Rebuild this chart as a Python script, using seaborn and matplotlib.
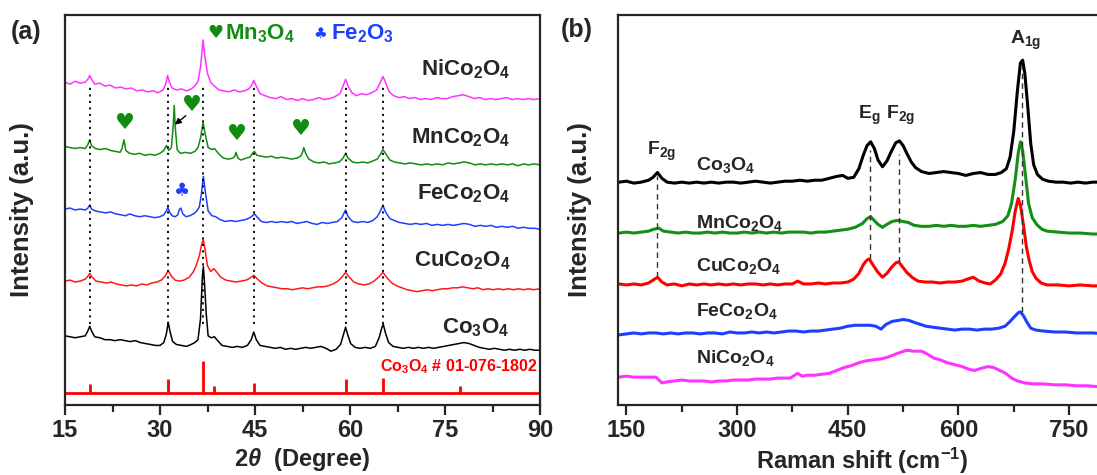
import matplotlib
matplotlib.use("Agg")
import matplotlib.pyplot as plt
import seaborn as sns

# ---------------- (a) XRD data (2theta, stacked intensity) ----------------
ni_x = [15, 15.8, 16.6, 17.4, 18.2, 18.7, 18.9, 19.2, 19.7, 20.5, 21.3, 22.1, 23.0, 23.8, 24.6, 25.5, 26.3,
        27.2, 28.0, 28.9, 29.7, 30.5, 30.9, 31.2, 31.5, 31.9, 32.6, 33.4, 34.2, 34.9, 35.5, 36.0, 36.4, 36.8,
        37.1, 37.5, 38.0, 38.6, 39.3, 40.1, 40.9, 41.7, 42.5, 43.3, 44.0, 44.5, 44.8, 45.2, 45.8, 46.6, 47.4,
        48.3, 49.1, 50.0, 50.8, 51.7, 52.5, 53.4, 54.2, 55.1, 55.9, 56.8, 57.6, 58.4, 58.9, 59.3, 59.7, 60.3,
        61.0, 61.8, 62.6, 63.4, 64.2, 64.8, 65.2, 65.6, 66.2, 66.9, 67.7, 68.6, 69.4, 70.3, 71.1, 72.0, 72.8,
        73.7, 74.5, 75.4, 76.2, 77.1, 77.9, 78.8, 79.6, 80.5, 81.3, 82.2, 83.0, 83.9, 84.7, 85.6, 86.4, 87.3,
        88.1, 89.0, 90.0]
ni_y = [326, 324, 327, 325, 326, 330, 333, 329, 324, 325, 322, 323, 320, 321, 319, 320, 317,
        318, 316, 317, 315, 318, 324, 333, 326, 320, 318, 319, 317, 319, 322, 327, 342, 370,
        352, 335, 326, 322, 318, 317, 316, 318, 316, 317, 319, 323, 328, 322, 314, 312, 310,
        309, 311, 308, 309, 307, 309, 307, 308, 310, 308, 309, 311, 314, 322, 329, 322, 315,
        312, 314, 313, 315, 318, 326, 332, 326, 316, 312, 310, 311, 309, 310, 308, 309, 308,
        310, 309, 309, 311, 312, 313, 311, 309, 310, 308, 309, 308, 309, 310, 308, 309, 308,
        309, 308, 309]

mn_x = [15, 15.8, 16.6, 17.4, 18.2, 18.6, 18.9, 19.2, 19.8, 20.6, 21.4, 22.2, 23.0, 23.7, 24.0, 24.3, 24.6,
        25.2, 26.0, 26.8, 27.6, 28.4, 29.2, 30.0, 30.6, 31.0, 31.4, 31.8, 32.1, 32.25, 32.4, 32.7, 33.2, 34.0,
        34.8, 35.5, 36.0, 36.4, 36.8, 37.2, 37.6, 38.2, 38.6, 39.2, 40.0, 40.8, 41.5, 41.8, 42.0, 42.3, 42.8,
        43.6, 44.2, 44.6, 44.9, 45.3, 46.0, 46.8, 47.6, 48.4, 49.2, 50.0, 50.8, 51.6, 52.2, 52.5, 52.7, 53.0,
        53.5, 54.3, 55.1, 55.9, 56.7, 57.5, 58.3, 58.9, 59.3, 59.7, 60.4, 61.2, 62.0, 62.8, 63.6, 64.3, 64.8,
        65.2, 65.6, 66.3, 67.0, 67.8, 68.7, 69.5, 70.4, 71.2, 72.1, 72.9, 73.8, 74.6, 75.5, 76.3, 77.2, 78.0,
        78.9, 79.7, 80.6, 81.4, 82.3, 83.1, 84.0, 84.8, 85.7, 86.5, 87.4, 88.2, 89.1, 90.0]
mn_y = [259, 258, 257, 258, 257, 261, 266, 260, 257, 256, 257, 255, 254, 253, 257, 266, 255,
        252, 251, 252, 250, 251, 250, 252, 255, 260, 255, 258, 282, 302, 280, 256, 252, 253,
        252, 254, 258, 268, 284, 270, 258, 256, 257, 252, 247, 246, 247, 249, 253, 247, 245,
        247, 248, 252, 254, 250, 249, 248, 249, 247, 248, 247, 246, 247, 249, 253, 258, 252,
        246, 243, 242, 243, 241, 242, 243, 247, 252, 247, 243, 242, 243, 242, 244, 246, 251,
        256, 252, 245, 243, 242, 241, 242, 241, 240, 241, 240, 241, 240, 242, 241, 242, 243,
        242, 240, 241, 240, 241, 240, 241, 240, 241, 239, 241, 240, 241, 240]

fe_x = [15, 15.8, 16.6, 17.4, 18.2, 18.6, 18.9, 19.2, 19.8, 20.6, 21.4, 22.2, 23.0, 23.8, 24.6, 25.2, 26.0,
        26.8, 27.6, 28.4, 29.2, 30.0, 30.6, 31.0, 31.25, 31.5, 31.9, 32.4, 32.8, 33.1, 33.3, 33.6, 34.1, 34.7,
        35.3, 35.8, 36.2, 36.5, 36.85, 37.2, 37.6, 38.2, 38.8, 39.5, 40.3, 41.1, 41.9, 42.7, 43.5, 44.2, 44.6,
        44.9, 45.3, 46.0, 46.8, 47.6, 48.4, 49.2, 50.0, 50.8, 51.6, 52.4, 53.2, 54.0, 54.8, 55.6, 56.4, 57.2,
        58.0, 58.7, 59.3, 59.7, 60.4, 61.2, 62.0, 62.8, 63.6, 64.3, 64.8, 65.2, 65.6, 66.3, 67.0, 67.8, 68.7,
        69.5, 70.4, 71.2, 72.1, 72.9, 73.8, 74.6, 75.5, 76.3, 77.2, 78.0, 78.9, 79.7, 80.6, 81.4, 82.3, 83.1,
        84.0, 84.8, 85.7, 86.5, 87.4, 88.2, 89.1, 90.0]
fe_y = [194, 195, 193, 194, 193, 195, 198, 194, 192, 191, 190, 191, 189, 188, 187, 189, 187,
        186, 187, 186, 185, 186, 188, 192, 196, 191, 187, 186, 188, 194, 195, 189, 186, 187,
        189, 192, 196, 208, 228, 210, 192, 187, 186, 183, 181, 182, 181, 182, 183, 185, 187,
        189, 186, 181, 180, 181, 180, 181, 180, 181, 179, 180, 181, 179, 178, 180, 179, 180,
        181, 185, 193, 186, 181, 180, 181, 180, 182, 186, 192, 198, 191, 184, 182, 180, 179,
        178, 179, 178, 179, 177, 178, 177, 178, 177, 178, 179, 178, 176, 177, 176, 177, 175,
        176, 175, 176, 174, 175, 174, 174, 173]

cu_x = [15, 15.8, 16.6, 17.4, 18.2, 18.6, 18.9, 19.3, 19.9, 20.7, 21.5, 22.3, 23.1, 23.9, 24.7, 25.5, 26.3,
        27.1, 27.9, 28.7, 29.5, 30.2, 30.8, 31.3, 31.8, 32.4, 33.0, 33.8, 34.6, 35.2, 35.7, 36.2, 36.6, 36.85,
        37.1, 37.5, 38.0, 38.5, 39.0, 39.6, 40.4, 41.2, 42.0, 42.8, 43.6, 44.2, 44.8, 45.4, 46.1, 46.9, 47.7,
        48.5, 49.3, 50.1, 50.9, 51.7, 52.5, 53.3, 54.1, 54.9, 55.7, 56.5, 57.3, 58.1, 58.7, 59.3, 59.9, 60.6,
        61.4, 62.2, 63.0, 63.8, 64.5, 65.2, 65.9, 66.6, 67.4, 68.2, 69.0, 69.8, 70.6, 71.4, 72.2, 73.0, 73.8,
        74.6, 75.4, 76.2, 77.0, 77.8, 78.6, 79.4, 80.2, 81.0, 81.8, 82.6, 83.4, 84.2, 85.0, 85.8, 86.6, 87.4,
        88.2, 89.0, 90.0]
cu_y = [119, 120, 118, 119, 121, 124, 127, 123, 119, 118, 117, 118, 116, 115, 114, 115, 114,
        116, 115, 117, 118, 120, 124, 130, 124, 120, 119, 120, 123, 128, 135, 145, 158, 162,
        152, 135, 129, 132, 128, 123, 120, 119, 118, 119, 120, 122, 125, 121, 117, 114, 113,
        112, 111, 111, 110, 111, 112, 111, 112, 113, 113, 114, 116, 119, 123, 128, 123, 118,
        116, 115, 116, 119, 123, 128, 122, 117, 114, 112, 110, 109, 108, 109, 110, 109, 110,
        111, 111, 112, 112, 113, 112, 111, 112, 110, 111, 110, 111, 110, 111, 110, 111, 110,
        111, 110, 111]

co_x = [15, 15.8, 16.6, 17.4, 18.2, 18.6, 18.9, 19.2, 19.7, 20.5, 21.3, 22.1, 22.9, 23.7, 24.5, 25.3, 26.1,
        26.9, 27.7, 28.5, 29.3, 30.0, 30.6, 31.0, 31.3, 31.6, 32.0, 32.6, 33.4, 34.2, 34.9, 35.5, 36.0, 36.4,
        36.7, 36.85, 37.0, 37.3, 37.6, 38.1, 38.6, 39.1, 39.8, 40.6, 41.4, 42.2, 43.0, 43.8, 44.4, 44.8, 45.2,
        45.8, 46.6, 47.4, 48.2, 49.0, 49.8, 50.6, 51.4, 52.2, 53.0, 53.8, 54.6, 55.4, 56.2, 57.0, 57.8, 58.5,
        59.0, 59.3, 59.6, 60.1, 60.8, 61.6, 62.4, 63.2, 64.0, 64.6, 65.0, 65.25, 65.6, 66.1, 66.8, 67.6, 68.4,
        69.2, 70.0, 70.8, 71.6, 72.4, 73.2, 74.0, 74.8, 75.6, 76.4, 77.2, 78.0, 78.8, 79.6, 80.4, 81.2, 82.0,
        82.8, 83.6, 84.4, 85.2, 86.0, 86.8, 87.6, 88.4, 89.2, 90.0]
co_y = [62, 61, 60, 61, 62, 67, 72, 67, 61, 60, 58, 58, 57, 58, 57, 56, 57,
        55, 54, 53, 52, 52, 55, 64, 76, 66, 56, 53, 52, 51, 53, 55, 58, 80,
        125, 134, 120, 85, 62, 60, 61, 57, 52, 51, 50, 51, 50, 52, 58, 66, 58,
        52, 51, 50, 49, 50, 48, 49, 48, 49, 50, 49, 50, 51, 49, 46, 48, 53,
        64, 71, 64, 54, 50, 49, 50, 49, 51, 60, 70, 74, 65, 55, 51, 50, 49,
        50, 49, 50, 49, 50, 49, 50, 51, 52, 53, 54, 55, 54, 52, 50, 49, 48,
        49, 48, 47, 48, 47, 48, 47, 48, 47, 47]

# Co3O4 reference pattern (JCPDS 01-076-1802)
ref_pos = [18.9, 31.3, 36.8, 38.5, 44.8, 59.3, 65.2, 77.3]
ref_top = [12, 17, 36, 10, 13, 17, 18, 10]
ref_base = 3

guide_pos = [18.9, 31.3, 36.8, 44.8, 59.3, 65.2]

# ---------------- (b) Raman data ----------------
co_rx = [140, 150, 160, 170, 180, 186, 192, 198, 205, 215, 225, 235, 245, 255, 265, 275, 285, 295, 305,
         315, 325, 335, 345, 355, 365, 375, 385, 395, 405, 415, 425, 435, 443, 450, 458, 465, 471, 476,
         481, 486, 491, 497, 503, 509, 515, 520, 525, 530, 536, 542, 550, 560, 570, 580, 590, 600, 610,
         620, 630, 640, 650, 658, 665, 670, 675, 680, 684, 687, 690, 694, 698, 702, 707, 714, 722, 732,
         742, 752, 762, 772, 782, 800]
co_ry = [222, 223, 221, 222, 224, 227, 232, 226, 222, 221, 222, 221, 222, 221, 222, 221, 222, 222, 221,
         222, 223, 222, 221, 222, 223, 223, 224, 223, 224, 224, 226, 228, 229, 226, 227, 236, 250, 260,
         264, 257, 245, 238, 244, 254, 263, 265, 260, 252, 243, 237, 233, 231, 232, 233, 232, 231, 229,
         231, 232, 230, 230, 232, 236, 248, 275, 318, 346, 349, 335, 300, 262, 240, 230, 225, 223, 222,
         222, 221, 222, 221, 222, 222]

mn_rx = [140, 150, 160, 170, 180, 187, 194, 200, 210, 220, 230, 240, 250, 260, 270, 280, 290, 300, 310,
         320, 330, 340, 350, 360, 370, 380, 390, 400, 410, 420, 430, 440, 450, 460, 470, 476, 481, 486,
         491, 497, 503, 510, 516, 520, 525, 532, 540, 550, 560, 570, 580, 590, 600, 610, 620, 630, 640,
         650, 660, 667, 672, 677, 681, 684, 687, 691, 695, 700, 706, 713, 720, 735, 750, 765, 782, 800]
mn_ry = [169, 170, 169, 170, 171, 173, 174, 171, 170, 169, 170, 169, 169, 170, 169, 170, 169, 169, 170,
         169, 170, 169, 170, 169, 170, 170, 170, 169, 170, 170, 171, 172, 173, 175, 179, 184, 186, 182,
         178, 175, 178, 181, 182, 182, 181, 180, 177, 176, 176, 177, 176, 177, 176, 176, 177, 176, 177,
         178, 181, 187, 200, 225, 252, 264, 255, 228, 200, 185, 178, 173, 171, 170, 169, 169, 168, 168]

cu_rx = [140, 150, 160, 170, 180, 186, 192, 198, 205, 215, 225, 235, 245, 255, 265, 275, 285, 295, 305,
         315, 325, 335, 345, 355, 365, 375, 382, 390, 400, 410, 420, 430, 440, 450, 458, 465, 471, 476,
         479, 484, 490, 497, 503, 509, 515, 519, 524, 530, 537, 545, 555, 565, 575, 585, 595, 605, 612,
         620, 628, 636, 643, 650, 657, 663, 668, 673, 677, 681, 684, 688, 692, 696, 700, 705, 712, 720,
         735, 750, 765, 782, 800]
cu_ry = [116, 115, 116, 115, 117, 120, 123, 118, 115, 116, 114, 116, 115, 116, 115, 116, 115, 116, 115,
         116, 116, 115, 116, 115, 116, 116, 119, 116, 116, 117, 116, 117, 117, 118, 121, 127, 136, 141,
         142, 136, 129, 123, 127, 133, 138, 139, 134, 128, 123, 119, 118, 118, 117, 118, 118, 119, 121,
         123, 119, 117, 116, 120, 126, 137, 152, 172, 192, 205, 198, 178, 155, 140, 129, 122, 117, 115,
         115, 114, 115, 114, 114]

fe_rx = [140, 150, 160, 170, 180, 190, 200, 210, 220, 230, 240, 250, 260, 270, 280, 290, 300, 310, 320,
         330, 340, 350, 360, 370, 380, 390, 400, 410, 420, 430, 440, 450, 460, 470, 480, 488, 495, 502,
         510, 518, 525, 533, 540, 548, 556, 565, 575, 585, 595, 605, 615, 625, 635, 645, 655, 663, 670,
         676, 681, 684, 688, 693, 698, 705, 715, 730, 745, 760, 782, 800]
fe_ry = [63, 64, 65, 64, 65, 65, 64, 65, 64, 65, 65, 64, 65, 65, 64, 66, 65, 65, 66,
         65, 66, 65, 66, 67, 67, 66, 67, 67, 68, 69, 70, 72, 73, 73, 73, 72, 69, 74,
         77, 78, 79, 78, 76, 74, 72, 71, 70, 69, 68, 69, 69, 68, 69, 69, 70, 72, 77,
         82, 86, 87, 83, 76, 70, 68, 67, 66, 66, 65, 65, 64]

ni_rx = [140, 150, 160, 170, 180, 190, 194, 198, 205, 215, 225, 235, 245, 255, 265, 275, 285, 295, 305,
         315, 325, 335, 345, 355, 365, 372, 378, 382, 388, 395, 405, 415, 425, 435, 445, 455, 465, 475,
         485, 495, 505, 515, 522, 530, 540, 550, 558, 566, 575, 585, 595, 605, 615, 622, 630, 640, 648,
         656, 664, 672, 680, 690, 700, 715, 730, 745, 760, 775, 790, 800]
ni_ry = [19, 20, 19, 19, 19, 19, 16, 13, 14, 15, 16, 15, 15, 15, 14, 15, 15, 16, 16,
         16, 17, 17, 17, 18, 18, 18, 21, 23, 20, 21, 21, 22, 23, 26, 29, 31, 34, 36,
         37, 38, 40, 43, 45, 47, 46, 46, 43, 39, 37, 34, 32, 30, 27, 26, 28, 30, 29,
         26, 23, 18, 15, 13, 12, 12, 11, 11, 10, 10, 9, 9]

xrd = [(ni_x, ni_y, "#ff33ff"), (mn_x, mn_y, "#118c11"), (fe_x, fe_y, "#1f3fff"),
       (cu_x, cu_y, "#ff1a1a"), (co_x, co_y, "#000000")]
raman = [(co_rx, co_ry, "#000000"), (mn_rx, mn_ry, "#138f13"), (cu_rx, cu_ry, "#ff0000"),
         (fe_rx, fe_ry, "#1f3fff"), (ni_rx, ni_ry, "#ff33ff")]

xrd_names = ["NiCo$_2$O$_4$", "MnCo$_2$O$_4$", "FeCo$_2$O$_4$", "CuCo$_2$O$_4$", "Co$_3$O$_4$"]
xrd_name_pos = [(78.2, 340), (77.4, 268), (78.0, 210), (77.7, 140), (79.9, 70)]
raman_names = ["Co$_3$O$_4$", "MnCo$_2$O$_4$", "CuCo$_2$O$_4$", "FeCo$_2$O$_4$", "NiCo$_2$O$_4$"]
raman_name_pos = [(244, 240), (244, 179), (244, 135), (244, 88), (244, 39)]

modes = ["F$_{\\mathrm{2g}}$", "E$_{\\mathrm{g}}$", "F$_{\\mathrm{2g}}$", "A$_{\\mathrm{1g}}$"]
mode_pos = [(198, 254), (479, 292), (522, 292), (691, 370)]
mode_lines = [(192, 228, 123), (480, 255, 142), (519, 251, 139), (686, 342, 87)]

# ---------------- style ----------------
sns.set_style("ticks")
plt.rcParams["font.family"] = ["Liberation Sans", "DejaVu Sans"]
plt.rcParams["font.weight"] = "bold"
plt.rcParams["mathtext.fontset"] = "custom"
plt.rcParams["mathtext.rm"] = "Liberation Sans:bold"
plt.rcParams["mathtext.it"] = "Liberation Sans:italic:bold"
plt.rcParams["mathtext.bf"] = "Liberation Sans:bold"
plt.rcParams["axes.linewidth"] = 1.6

fig = plt.figure(figsize=(10.97, 4.75), dpi=100)
ax1 = fig.add_axes([65 / 1097, 70 / 475, 475 / 1097, 390 / 475])
ax2 = fig.add_axes([618 / 1097, 70 / 475, 488 / 1097, 390 / 475])


def style_axis(ax):
    ax.tick_params(axis="x", which="major", direction="out", length=7, width=1.6,
                   labelsize=17, pad=3)
    ax.tick_params(axis="x", which="minor", direction="out", length=5, width=1.6)
    ax.tick_params(axis="y", left=False, labelleft=False)
    for lab in ax.get_xticklabels():
        lab.set_fontweight("bold")
    for s in ax.spines.values():
        s.set_linewidth(1.6)


# ---------------- panel (a) ----------------
for xs, ys, c in xrd:
    sns.lineplot(x=xs, y=ys, color=c, lw=1.1, ax=ax1, sort=False, estimator=None)

ax1.vlines(ref_pos, ref_base, ref_top, color="#ff0000", lw=2)
ax1.hlines(ref_base, 15, 90, color="#ff0000", lw=2)
ax1.vlines(guide_pos, 74, 323, color="black", lw=1.3, linestyles=(0, (1.2, 2.4)))

for name, (x, y) in zip(xrd_names, xrd_name_pos):
    ax1.text(x, y, name, ha="center", va="center", fontsize=16, fontweight="bold")
ax1.text(89.6, 30, "Co$_3$O$_4$ # 01-076-1802", ha="right", va="center", fontsize=11.5,
         color="#ff0000", fontweight="bold")

ax1.text(40.0, 377, "\u2665", ha="right", va="center", fontsize=13, color="#118c11",
         family=["DejaVu Sans"])
ax1.text(40.3, 377, "Mn$_3$O$_4$", ha="left", va="center", fontsize=16, color="#118c11",
         fontweight="bold")
ax1.text(56.4, 377, "\u2663", ha="right", va="center", fontsize=11, color="#1f3fff",
         family=["DejaVu Sans"])
ax1.text(57.0, 377, "Fe$_2$O$_3$", ha="left", va="center", fontsize=16, color="#1f3fff",
         fontweight="bold")

for hx, hy in [(24.4, 284), (35.1, 302), (42.1, 272), (52.3, 277)]:
    ax1.text(hx, hy, "\u2665", ha="center", va="center", fontsize=16, color="#118c11",
             family=["DejaVu Sans"])
ax1.text(33.5, 212, "\u2663", ha="center", va="center", fontsize=13, color="#1f3fff",
         family=["DejaVu Sans"])
ax1.annotate("", xy=(32.0, 280), xytext=(34.4, 293),
             arrowprops=dict(arrowstyle="-|>", color="black", lw=1.0, mutation_scale=9))

ax1.set_xlim(15, 90)
ax1.set_ylim(-10, 396)
ax1.set_xticks([15, 30, 45, 60, 75, 90])
ax1.set_xticks([22.5, 37.5, 52.5, 67.5, 82.5], minor=True)
style_axis(ax1)
ax1.set_xlabel(r"2$\theta$  (Degree)", fontsize=17, fontweight="bold", labelpad=3)
ax1.set_ylabel("Intensity (a.u.)", fontsize=18.5, fontweight="bold")
ax1.yaxis.set_label_coords(-0.065, 0.5)
fig.text(11 / 1097, 1 - 32 / 475, "(a)", fontsize=18, fontweight="bold", va="center")

# ---------------- panel (b) ----------------
for xs, ys, c in raman:
    sns.lineplot(x=xs, y=ys, color=c, lw=2.2, ax=ax2, sort=False, estimator=None)

for x, top, bottom in mode_lines:
    ax2.vlines(x, bottom, top, color="#333333", lw=1.0, linestyles=(0, (4, 3)))

for name, (x, y) in zip(raman_names, raman_name_pos):
    ax2.text(x, y, name, ha="left", va="center", fontsize=14, fontweight="bold")
for m, (x, y) in zip(modes, mode_pos):
    ax2.text(x, y, m, ha="center", va="center", fontsize=14, fontweight="bold")

ax2.set_xlim(138.5, 800)
ax2.set_ylim(-10, 396)
ax2.set_xticks([150, 300, 450, 600, 750])
ax2.set_xticks([225, 375, 525, 675], minor=True)
style_axis(ax2)
ax2.set_xlabel("Raman shift (cm$^{\\mathrm{-1}}$)", fontsize=17, fontweight="bold", labelpad=3)
ax2.set_ylabel("Intensity (a.u.)", fontsize=18.5, fontweight="bold")
ax2.yaxis.set_label_coords(-0.053, 0.5)
fig.text(561 / 1097, 1 - 30 / 475, "(b)", fontsize=18, fontweight="bold", va="center")

fig.savefig("out.png", dpi=100)
